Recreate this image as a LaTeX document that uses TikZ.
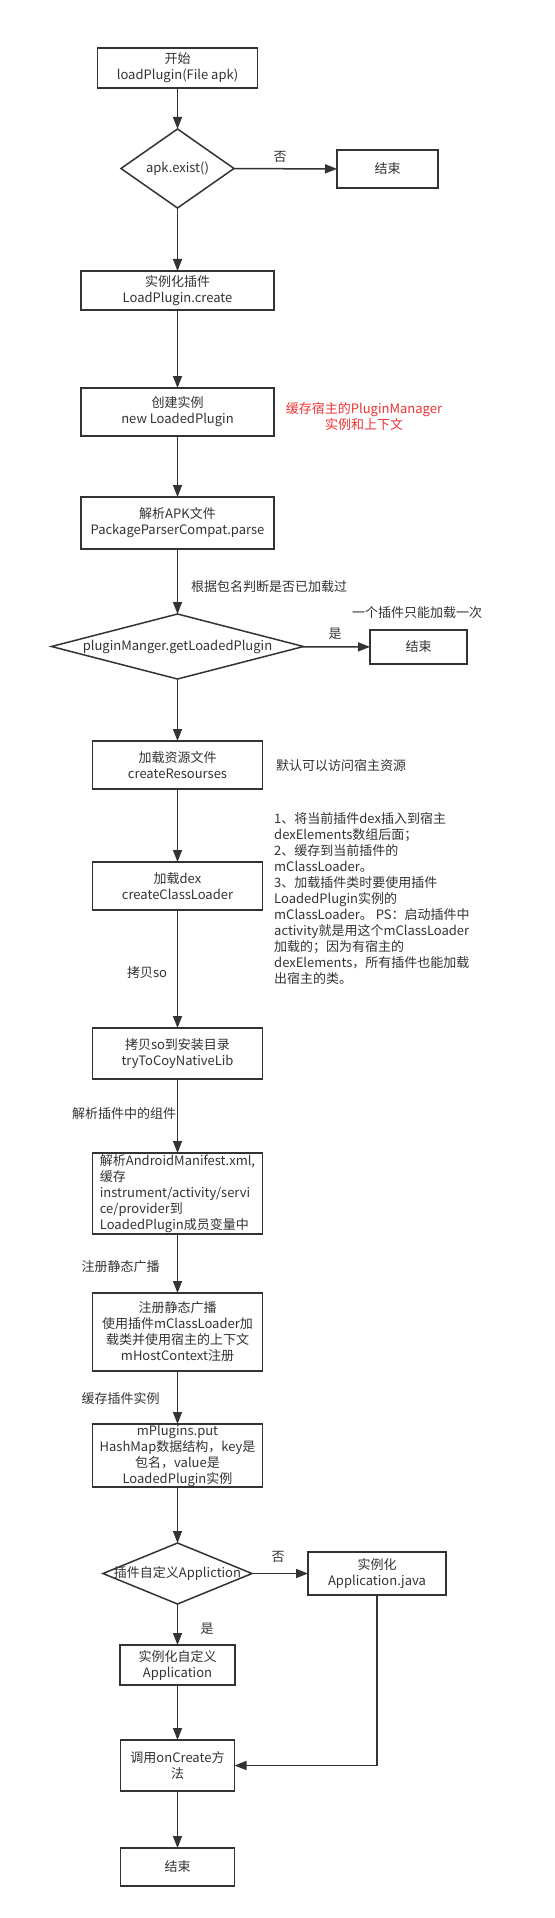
\documentclass[tikz,border=0pt]{standalone}
\usepackage{fontspec}
\setmainfont{Noto Sans CJK SC}
\usetikzlibrary{shapes.geometric,arrows.meta}
\definecolor{ink}{HTML}{333333}
\definecolor{note}{HTML}{F03333}
\begin{document}
\begin{tikzpicture}[x=1pt,y=-1pt,
  txt/.style={font=\fontsize{13}{16}\selectfont},
  box/.style={draw=ink, line width=1.5pt, inner sep=0pt, outer sep=0pt, text=ink, txt, align=center},
  dia/.style={draw=ink, diamond, line width=1.5pt, inner sep=0pt, outer sep=0pt},
  lbl/.style={text=ink, txt, inner sep=0pt},
  arr/.style={draw=ink, line width=1.5pt, -{Triangle[length=12pt,width=9pt]}}]
\useasboundingbox[fill=white] (0,0) rectangle (554,1918);

\node[box, minimum width=160pt, minimum height=40pt] (start) at (177.5,68) {开始\\loadPlugin(File apk)};
\node[dia, minimum width=113pt, minimum height=79pt] (d1) at (177.5,168.5) {};
\node[lbl] (d1t) at (d1.center) {apk.exist()};
\node[box, minimum width=101pt, minimum height=38pt] (e1) at (387.5,169) {结束};
\node[lbl] (no1) at (280,157) {否};

\node[box, minimum width=193pt, minimum height=39pt] (b3) at (177.5,290.5) {实例化插件\\LoadPlugin.create};
\node[box, minimum width=193pt, minimum height=48pt] (b4) at (177.5,412) {创建实例\\new LoadedPlugin};
\node[lbl, text=note, align=center] (n1) at (364,417) {缓存宿主的PluginManager\\实例和上下文};
\node[box, minimum width=193pt, minimum height=52pt] (b5) at (177.5,523) {解析APK文件\\PackageParserCompat.parse};
\node[lbl, anchor=west] (l1) at (191,587) {根据包名判断是否已加载过};

\node[dia, minimum width=252pt, minimum height=65pt] (d2) at (177.5,646.5) {};
\node[lbl] (d2t) at (d2.center) {pluginManger.getLoadedPlugin};
\node[box, minimum width=97pt, minimum height=34pt] (e2) at (418.5,647) {结束};
\node[lbl] (yes1) at (335,634) {是};
\node[lbl] (n2) at (417,613) {一个插件只能加载一次};

\node[box, minimum width=170pt, minimum height=48pt] (b6) at (177.5,765) {加载资源文件\\createResourses};
\node[lbl, anchor=west] (n3) at (276,766) {默认可以访问宿主资源};
\node[box, minimum width=170pt, minimum height=48pt] (b7) at (177.5,886) {加载dex\\createClassLoader};
\node[lbl, anchor=north west, align=left] (n4) at (274,812) {1、将当前插件dex插入到宿主\\dexElements数组后面；\\2、缓存到当前插件的\\mClassLoader。\\3、加载插件类时要使用插件\\LoadedPlugin实例的\\mClassLoader。 PS：启动插件中\\activity就是用这个mClassLoader\\加载的；因为有宿主的\\dexElements，所有插件也能加载\\出宿主的类。};

\node[lbl] (l2) at (147,973) {拷贝so};
\node[box, minimum width=170pt, minimum height=51pt] (b8) at (177.5,1053.5) {拷贝so到安装目录\\tryToCoyNativeLib};
\node[lbl] (l3) at (124,1114) {解析插件中的组件};
\node[box, minimum width=170pt, minimum height=81pt, align=left] (b9) at (177.5,1193.5) {解析AndroidManifest.xml,\\缓存\\instrument/activity/servi\\ce/provider到\\LoadedPlugin成员变量中};
\node[lbl] (l4) at (120.5,1267) {注册静态广播};
\node[box, minimum width=170pt, minimum height=78pt] (b10) at (177.5,1332) {注册静态广播\\使用插件mClassLoader加\\载类并使用宿主的上下文\\mHostContext注册};
\node[lbl] (l5) at (120.5,1399) {缓存插件实例};
\node[box, minimum width=170pt, minimum height=63pt] (b11) at (177.5,1455.5) {mPlugins.put\\HashMap数据结构，key是\\包名，value是\\LoadedPlugin实例};

\node[dia, minimum width=149pt, minimum height=61pt] (d3) at (177.5,1573.5) {};
\node[lbl] (d3t) at (d3.center) {插件自定义Appliction};
\node[box, minimum width=138pt, minimum height=43pt] (b12) at (377,1573.5) {实例化\\Application.java};
\node[lbl] (no2) at (278,1557) {否};
\node[lbl] (yes2) at (207,1629) {是};
\node[box, minimum width=115pt, minimum height=40pt] (b13) at (177.5,1665) {实例化自定义\\Application};
\node[box, minimum width=114pt, minimum height=51pt] (b14) at (177.5,1765.5) {调用onCreate方\\法};
\node[box, minimum width=114pt, minimum height=38pt] (b15) at (177.5,1867) {结束};

\draw[arr] (start) -- (d1);
\draw[arr] (d1) -- (e1);
\draw[arr] (d1) -- (b3);
\draw[arr] (b3) -- (b4);
\draw[arr] (b4) -- (b5);
\draw[arr] (b5) -- (d2);
\draw[arr] (d2) -- (e2);
\draw[arr] (d2) -- (b6);
\draw[arr] (b6) -- (b7);
\draw[arr] (b7) -- (b8);
\draw[arr] (b8) -- (b9);
\draw[arr] (b9) -- (b10);
\draw[arr] (b10) -- (b11);
\draw[arr] (b11) -- (d3);
\draw[arr] (d3) -- (b12);
\draw[arr] (d3) -- (b13);
\draw[arr] (b13) -- (b14);
\draw[arr] (b12.south) |- (b14.east);
\draw[arr] (b14) -- (b15);
\end{tikzpicture}
\end{document}
